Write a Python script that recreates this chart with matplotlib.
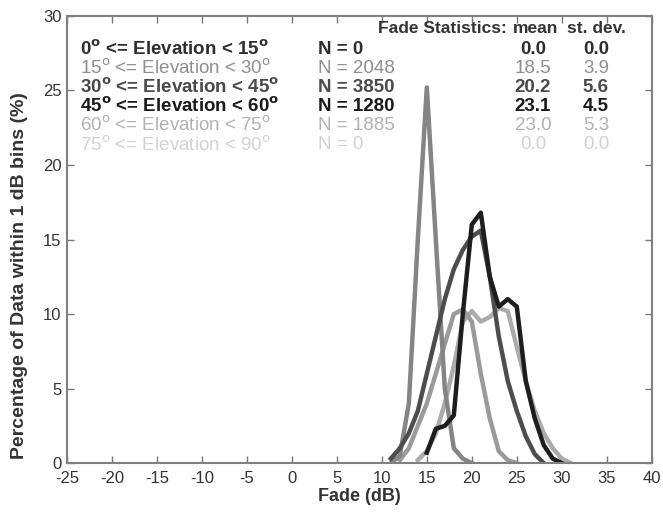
import numpy as np
import matplotlib
matplotlib.use("Agg")
import matplotlib.pyplot as plt

plt.rcParams['font.family'] = ['Liberation Sans', 'DejaVu Sans']
plt.rcParams['axes.unicode_minus'] = False

# fade bins (dB) and percentage of data in each 1 dB bin
spike_x = [11, 12, 13, 14, 15, 16, 17, 18, 19, 20]
spike_y = [0.0, 0.5, 4.0, 15.0, 25.2, 15.0, 5.0, 1.0, 0.3, 0.0]

e15_x = [12, 13, 14, 15, 16, 17, 18, 19, 20, 21, 22, 23, 24, 25]
e15_y = [0.2, 1.0, 2.5, 4.0, 6.0, 8.0, 10.0, 10.3, 9.5, 6.0, 3.0, 0.8, 0.2, 0.0]

e30_x = [11, 12, 13, 14, 15, 16, 17, 18, 19, 20, 21, 22, 23, 24, 25, 26, 27, 28]
e30_y = [0.3, 1.0, 2.0, 3.5, 6.0, 8.5, 11.0, 13.0, 14.3, 15.2, 15.6, 12.5, 8.5, 5.5, 3.5, 1.8, 0.6, 0.0]

e45_x = [15, 16, 17, 18, 19, 20, 21, 22, 23, 24, 25, 26, 27, 28, 29, 30]
e45_y = [0.7, 2.3, 2.5, 3.2, 10.0, 16.0, 16.8, 12.5, 10.5, 11.0, 10.5, 5.5, 3.0, 1.2, 0.3, 0.0]

e60_x = [14, 15, 16, 17, 18, 19, 20, 21, 22, 23, 24, 25, 26, 27, 28, 29, 30, 31]
e60_y = [0.2, 0.8, 2.0, 4.0, 6.5, 9.5, 10.2, 9.5, 9.8, 10.4, 10.2, 7.8, 5.5, 3.5, 2.0, 1.0, 0.3, 0.0]

row_labels = ['0$^{\\mathbf{o}}$ <= Elevation < 15$^{\\mathbf{o}}$',
              '15$^{\\mathrm{o}}$ <= Elevation < 30$^{\\mathrm{o}}$',
              '30$^{\\mathbf{o}}$ <= Elevation < 45$^{\\mathbf{o}}$',
              '45$^{\\mathbf{o}}$ <= Elevation < 60$^{\\mathbf{o}}$',
              '60$^{\\mathrm{o}}$ <= Elevation < 75$^{\\mathrm{o}}$',
              '75$^{\\mathrm{o}}$ <= Elevation < 90$^{\\mathrm{o}}$']
counts = [0, 2048, 3850, 1280, 1885, 0]
means = [0.0, 18.5, 20.2, 23.1, 23.0, 0.0]
stdevs = [0.0, 3.9, 5.6, 4.5, 5.3, 0.0]
row_colors = ['#2e2e2e', '#8e8e8e', '#4a4a4a', '#1a1a1a', '#b2b2b2', '#d2d2d2']
row_weights = ['bold', 'normal', 'bold', 'bold', 'normal', 'normal']

fig = plt.figure(figsize=(6.63, 5.14), dpi=100)
ax = fig.add_axes([0.101, 0.099, 0.882, 0.870])

ax.plot(e60_x, e60_y, color='#ababab', lw=3.2)
ax.plot(e15_x, e15_y, color='#9a9a9a', lw=3.2)
ax.plot(spike_x, spike_y, color='#858585', lw=3.2)
ax.plot(e30_x, e30_y, color='#4d4d4d', lw=3.2)
ax.plot(e45_x, e45_y, color='#1e1e1e', lw=3.2)

ax.set_xlim(-25, 40)
ax.set_ylim(0, 30)
ax.set_xticks(np.arange(-25, 41, 5))
ax.set_yticks(np.arange(0, 31, 5))
ax.tick_params(direction='in', top=True, right=True, length=5, width=1,
               color='#777777', labelsize=12, labelcolor='#333333')
ax.tick_params(axis='x', pad=6)
ax.tick_params(axis='y', pad=4)
for s in ax.spines.values():
    s.set_color('#808080')
    s.set_linewidth(1.5)

ax.set_xlabel('Fade (dB)', fontsize=13, fontweight='bold', color='#333333', labelpad=1)
ax.set_ylabel('Percentage of Data within 1 dB bins (%)', fontsize=14,
              fontweight='bold', color='#333333')
ax.yaxis.set_label_coords(-0.066, 0.42)

# statistics table in the upper part of the axes
fs = 13.5
ax.text(23.9, 29.15, 'Fade Statistics:', fontsize=12.5, fontweight='bold',
        color='#333333', ha='right', va='center')
ax.text(27.1, 29.15, 'mean', fontsize=12.5, fontweight='bold', color='#333333',
        ha='center', va='center')
ax.text(33.9, 29.15, 'st. dev.', fontsize=12.5, fontweight='bold', color='#333333',
        ha='center', va='center')
row_y = [27.75, 26.47, 25.19, 23.91, 22.63, 21.35]
for lab, n, m, sd, c, w, yy in zip(row_labels, counts, means, stdevs,
                                   row_colors, row_weights, row_y):
    ax.text(-23.6, yy, lab, fontsize=fs, fontweight=w, color=c, va='center')
    ax.text(2.9, yy, 'N = %d' % n, fontsize=fs, fontweight=w, color=c, va='center')
    ax.text(26.8, yy, '%.1f' % m, fontsize=fs, fontweight=w, color=c,
            ha='center', va='center')
    ax.text(33.8, yy, '%.1f' % sd, fontsize=fs, fontweight=w, color=c,
            ha='center', va='center')

fig.savefig('out.png', dpi=100)
